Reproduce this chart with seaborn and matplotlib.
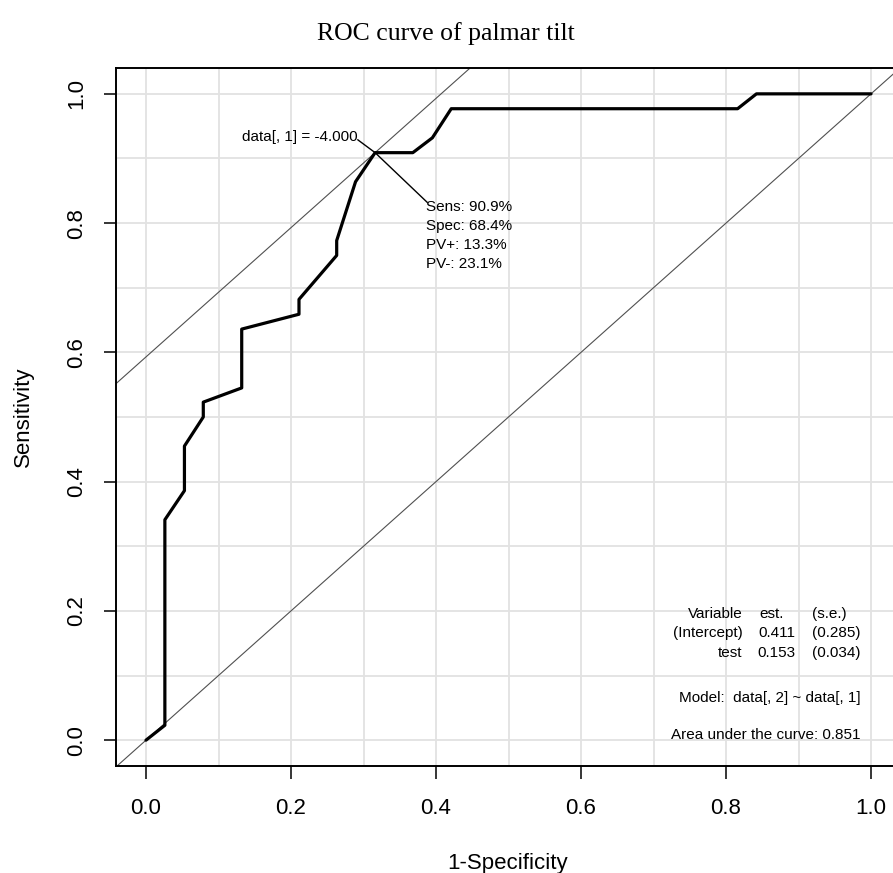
import matplotlib
matplotlib.use('Agg')
import matplotlib.pyplot as plt
import seaborn as sns
import numpy as np

# ROC curve vertices (1-specificity, sensitivity)
fpr = [0.0, 0.026, 0.026, 0.053, 0.053, 0.079, 0.079, 0.132, 0.132, 0.211, 0.211,
       0.263, 0.263, 0.289, 0.316, 0.368, 0.395, 0.421, 0.816, 0.842, 1.0]
tpr = [0.0, 0.023, 0.341, 0.386, 0.455, 0.500, 0.523, 0.545, 0.636, 0.659, 0.682,
       0.750, 0.773, 0.864, 0.909, 0.909, 0.932, 0.977, 0.977, 1.0, 1.0]

opt_point = (0.316, 0.909)
opt_label = "data[, 1] = -4.000"
opt_stats = ["Sens: 90.9%", "Spec: 68.4%", "PV+: 13.3%", "PV-: 23.1%"]

tab_vars = ["Variable", "(Intercept)", "test"]
tab_est = ["est.", "0.411", "0.153"]
tab_se = ["(s.e.)", "(0.285)", "(0.034)"]
model_txt = "Model:  data[, 2] ~ data[, 1]"
auc_txt = "Area under the curve: 0.851"

sns.set_style("white")
plt.rcParams['font.family'] = ['Liberation Sans', 'DejaVu Sans']
plt.rcParams['text.color'] = 'black'
plt.rcParams['xtick.color'] = 'black'
plt.rcParams['ytick.color'] = 'black'

W, H = 893, 873
fig = plt.figure(figsize=(W / 100, H / 100), dpi=100)
ax = fig.add_axes([116 / W, 1 - 766 / H, 784 / W, 698 / H])

ax.set_xlim(-0.0414, 1.04)
ax.set_ylim(-0.040, 1.040)
ax.set_xticks(np.arange(0, 1.01, 0.2))
ax.set_yticks(np.arange(0, 1.01, 0.2))
ax.set_xticks(np.arange(0, 1.01, 0.1), minor=True)
ax.set_yticks(np.arange(0, 1.01, 0.1), minor=True)
ax.grid(which='both', color='#e2e2e2', lw=1.3, zorder=0)
ax.set_axisbelow(True)
ax.tick_params(which='minor', length=0)
ax.tick_params(which='major', direction='out', length=9, width=1.1, color='black',
               labelsize=16, labelcolor='black', left=True, bottom=True)
ax.tick_params(axis='x', pad=14)
ax.tick_params(axis='y', pad=19, labelrotation=90)
ax.set_xticklabels([f"{v:.1f}" for v in np.arange(0, 1.01, 0.2)])
ax.set_yticklabels([f"{v:.1f}" for v in np.arange(0, 1.01, 0.2)])
for lab in ax.get_yticklabels():
    lab.set_ha('center')
    lab.set_va('center')
for sp in ax.spines.values():
    sp.set_color('black')
    sp.set_linewidth(1.4)

# reference lines
ax.axline((0, 0), slope=1, color='#505050', lw=0.8, zorder=2)
ax.axline((0, opt_point[1] - opt_point[0]), slope=1, color='#505050', lw=0.8, zorder=2)

sns.lineplot(x=fpr, y=tpr, sort=False, estimator=None, color='black', lw=2.3, ax=ax, zorder=3)

# optimal cut-off annotation
ax.plot([0.292, opt_point[0], 0.388], [0.929, opt_point[1], 0.832], color='black', lw=1.0, zorder=3)
ax.text(0.292, 0.933, opt_label, ha='right', va='center', fontsize=11)
for i, s in enumerate(opt_stats):
    ax.text(0.386, 0.825 - i * 0.0292, s, ha='left', va='center', fontsize=11)

# model table
row_y = [0.195, 0.166, 0.135]
for i in range(3):
    ax.text(0.823, row_y[i], tab_vars[i], ha='right', va='center', fontsize=11)
    ax.text(0.896 if i else 0.879, row_y[i], tab_est[i], ha='right', va='center', fontsize=11)
    ax.text(0.919, row_y[i], tab_se[i], ha='left', va='center', fontsize=11)
ax.text(0.985, 0.065, model_txt, ha='right', va='center', fontsize=11)
ax.text(0.985, 0.008, auc_txt, ha='right', va='center', fontsize=11)

ax.set_xlabel("")
ax.set_ylabel("")
fig.text(508 / W, 1 - 869 / H, "1-Specificity", ha='center', va='baseline', fontsize=16)
fig.text(23 / W, 1 - 417 / H, "Sensitivity", ha='center', va='center', rotation=90, fontsize=16)
fig.text(446 / W, 1 - 40 / H, "ROC curve of palmar tilt", ha='center', va='baseline',
         fontsize=18.5, family=['Liberation Serif', 'DejaVu Serif'])

fig.savefig("out.png", dpi=100)
plt.close(fig)
